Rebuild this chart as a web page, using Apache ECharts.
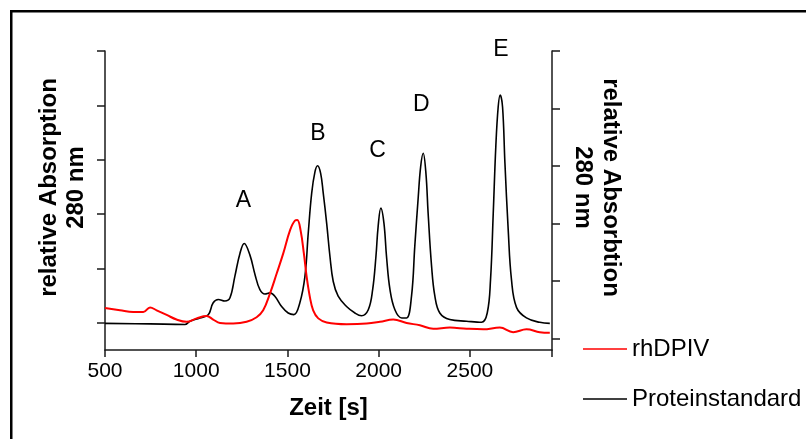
<!DOCTYPE html>
<html>
<head>
<meta charset="utf-8">
<script src="https://cdn.jsdelivr.net/npm/echarts@6/dist/echarts.min.js"></script>
<style>
html,body{margin:0;padding:0;background:#fff;}
#chart{width:806px;height:439px;}
</style>
</head>
<body>
<div id="chart"></div>
<script>
// ---- data ----
var xTicks = [500, 1000, 1500, 2000, 2500];

// Proteinstandard (black), left axis, relative units
var protTime = [500,747,938,966,1020,1066,1093,1121,1157,1185,
  1212,1240,1263,1294,1322,1349,1377,1404,1431,1468,
  1504,1535,1568,1596,1614,1633,1651,1665,1682,1696,
  1715,1733,1751,1778,1824,1870,1906,1943,1967,1985,
  1997,2012,2029,2043,2062,2089,2126,2153,2180,2198,
  2217,2230,2244,2259,2271,2290,2308,2335,2390,2482,
  2564,2595,2613,2628,2642,2655,2666,2679,2692,2710,
  2728,2756,2810,2883,2938];
var protAbs = [-0.01,-0.02,-0.03,0.03,0.09,0.15,0.37,0.43,0.40,0.46,
  0.86,1.28,1.46,1.25,0.89,0.61,0.53,0.55,0.49,0.30,
  0.18,0.15,0.37,0.86,1.65,2.39,2.78,2.89,2.75,2.39,
  1.83,1.22,0.76,0.49,0.30,0.18,0.13,0.24,0.61,1.22,
  1.77,2.11,1.83,1.22,0.61,0.24,0.09,0.09,0.49,1.41,
  2.32,2.87,3.12,2.75,2.02,1.04,0.49,0.18,0.06,0.03,
  0.01,0.18,0.79,2.02,3.24,3.97,4.19,3.97,2.94,1.71,
  0.79,0.28,0.09,0.01,-0.01];

// rhDPIV (red), right axis, relative units
var dpivTime = [500,582,655,710,747,783,838,892,947,1002,
  1057,1093,1130,1203,1276,1331,1367,1404,1441,1477,
  1514,1541,1554,1572,1590,1605,1623,1641,1669,1715,
  1824,1934,2007,2080,2153,2226,2299,2390,2482,2573,
  2664,2737,2810,2883,2938];
var dpivAbs = [0.53,0.49,0.46,0.46,0.54,0.49,0.41,0.33,0.29,0.35,
  0.39,0.33,0.27,0.26,0.29,0.37,0.49,0.78,1.13,1.48,
  1.88,2.05,2.06,1.88,1.48,1.08,0.72,0.49,0.35,0.28,
  0.25,0.26,0.29,0.33,0.27,0.23,0.17,0.19,0.17,0.16,
  0.19,0.11,0.16,0.11,0.10];

var leftTicks = [0, 1, 2, 3, 4, 5];
var rightTicks = [0, 1, 2, 3, 4, 5];

var peakNames = ['A', 'B', 'C', 'D', 'E'];
var peakTime = [1258, 1667, 1994, 2233, 2670];
var peakLevel = [2.24, 3.48, 3.17, 4.02, 5.03];

var seriesNames = ['rhDPIV', 'Proteinstandard'];
var xTitle = 'Zeit [s]';
var yTitleLeft = 'relative Absorption\n280 nm';
var yTitleRight = 'relative Absorbtion\n280 nm';

// ---- chart ----
var FONT = 'Liberation Sans, Arial, Helvetica, sans-serif';
function pairs(xs, ys) { return xs.map(function (x, i) { return [x, ys[i]]; }); }

var chart = echarts.init(document.getElementById('chart'), null, { renderer: 'canvas' });

var axisLineStyle = { color: '#1a1a1a', width: 1.5 };

var option = {
  animation: false,
  backgroundColor: '#ffffff',
  grid: { left: 105, right: 254, top: 51, bottom: 89, containLabel: false },
  xAxis: {
    type: 'value', min: 500, max: 2950, interval: 500,
    axisLine: { show: true, onZero: false, lineStyle: axisLineStyle },
    axisTick: { show: true, inside: false, length: 7, lineStyle: axisLineStyle },
    axisLabel: {
      show: true, margin: 11, color: '#000', fontFamily: FONT, fontSize: 21,
      customValues: xTicks,
      formatter: function (v) { return String(v); }
    },
    splitLine: { show: false },
    name: xTitle, nameLocation: 'middle', nameGap: 46,
    nameTextStyle: { color: '#000', fontFamily: FONT, fontSize: 24, fontWeight: 'bold' }
  },
  yAxis: [
    {
      type: 'value', position: 'left', min: -0.5, max: 5,
      axisLine: { show: true, onZero: false, lineStyle: axisLineStyle },
      axisTick: { show: true, inside: false, length: 8, customValues: leftTicks, lineStyle: axisLineStyle },
      axisLabel: { show: false },
      splitLine: { show: false }
    },
    {
      type: 'value', position: 'right', min: -0.2, max: 5,
      axisLine: { show: true, onZero: false, lineStyle: axisLineStyle },
      axisTick: { show: true, inside: false, length: 8, customValues: rightTicks, lineStyle: axisLineStyle },
      axisLabel: { show: false },
      splitLine: { show: false }
    }
  ],
  legend: {
    data: seriesNames.map(function (n) { return { name: n, icon: 'rect' }; }),
    orient: 'vertical',
    left: 578, top: 332,
    itemWidth: 44, itemHeight: 1.6, itemGap: 26,
    textStyle: { color: '#000', fontFamily: FONT, fontSize: 24, lineHeight: 24 },
    selectedMode: false
  },
  series: [
    {
      name: 'Proteinstandard', type: 'line', yAxisIndex: 0,
      data: pairs(protTime, protAbs),
      symbol: 'none', showSymbol: false, smooth: 0.4,
      lineStyle: { color: '#000000', width: 1.6 },
      itemStyle: { color: '#000000' },
      z: 2
    },
    {
      name: 'rhDPIV', type: 'line', yAxisIndex: 1,
      data: pairs(dpivTime, dpivAbs),
      symbol: 'none', showSymbol: false, smooth: 0.4,
      lineStyle: { color: '#ff0000', width: 2 },
      itemStyle: { color: '#ff0000' },
      z: 3
    }
  ],
  graphic: [
    {
      id: 'frame', type: 'rect', silent: true,
      shape: { x: 11.25, y: 11.25, width: 900, height: 600 },
      style: { fill: 'none', stroke: '#000', lineWidth: 2.5 }
    },
    {
      id: 'ytl', type: 'text', x: 63, y: 187.5, rotation: Math.PI / 2,
      style: { text: yTitleLeft, font: 'bold 24px ' + FONT, fill: '#000', align: 'center', verticalAlign: 'middle', lineHeight: 27 }
    },
    {
      id: 'ytr', type: 'text', x: 597, y: 187.5, rotation: -Math.PI / 2,
      style: { text: yTitleRight, font: 'bold 24px ' + FONT, fill: '#000', align: 'center', verticalAlign: 'middle', lineHeight: 28 }
    }
  ]
};

chart.setOption(option);

var peakGraphics = peakNames.map(function (n, i) {
  var p = chart.convertToPixel({ xAxisIndex: 0, yAxisIndex: 0 }, [peakTime[i], peakLevel[i]]);
  return {
    id: 'peak' + n, type: 'text', x: p[0], y: p[1],
    style: { text: n, font: '23px ' + FONT, fill: '#000', align: 'center', verticalAlign: 'middle' }
  };
});
chart.setOption({ graphic: peakGraphics });
</script>
</body>
</html>
